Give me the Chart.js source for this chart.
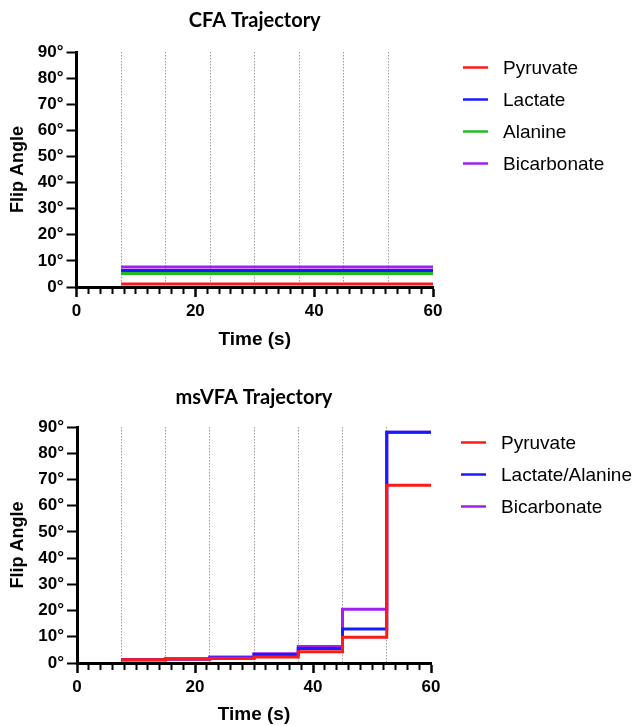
<!DOCTYPE html>
<html>
<head>
<meta charset="utf-8">
<title>CFA / msVFA Trajectory</title>
<script src="https://cdn.jsdelivr.net/npm/chart.js@4/dist/chart.umd.min.js"></script>
<style>
  html, body { margin: 0; padding: 0; background: #fff; }
  #wrap { position: relative; width: 633px; height: 726px; }
  canvas { position: absolute; left: 0; }
  #cfa { top: 0; }
  #msvfa { top: 363px; }
</style>
</head>
<body>
<div id="wrap">
  <canvas id="cfa" width="633" height="363"></canvas>
  <canvas id="msvfa" width="633" height="363"></canvas>
</div>
<script>
// times where a new flip angle starts (s) -- last one is the end of the acquisition
const cfaTimes = [7.5, 60];
const cfaPyruvate = [1.15, 1.15];
const cfaLactate = [6.35, 6.35];
const cfaAlanine = [5.2, 5.2];
const cfaBicarbonate = [7.65, 7.65];

const msTimes = [7.5, 15, 22.5, 30, 37.5, 45, 52.5, 60];
const msPyruvate = [1.2, 1.5, 1.7, 2.3, 4.3, 9.8, 67.8, 67.8];
const msLactateAlanine = [1.2, 1.5, 1.9, 3.2, 5.5, 13, 88, 88];
const msBicarbonate = [1.2, 1.5, 2.3, 3.5, 6.3, 20.5, 88, 88];

// dotted lines at each excitation
const gridTimes = [7.5, 15, 22.5, 30, 37.5, 45, 52.5];
const yTicks = [0, 10, 20, 30, 40, 50, 60, 70, 80, 90];

const cores = {
    pyruvate: '#ff1a1a',
    lactate: '#1a1aff',
    alanine: '#22bb22',
    bicarbonate: '#a020f0'
};

const ARIAL = "'Liberation Sans', Arial, sans-serif";
Chart.defaults.font.family = ARIAL;
Chart.defaults.color = '#000';

function serie(label, times, values, color) {
    return {
        label: label,
        data: times.map((t, i) => ({ x: t, y: values[i] })),
        borderColor: color,
        backgroundColor: color,
        borderWidth: 3,
        pointRadius: 0,
        stepped: 'before',
        fill: false
    };
}

// legend drawn on the right side, one short line + name per dataset
const legendaLinhas = {
    id: 'legendaLinhas',
    afterDraw(chart, args, opts) {
        const { ctx, chartArea } = chart;
        ctx.save();
        ctx.font = '19px ' + ARIAL;
        ctx.textBaseline = 'middle';
        chart.data.datasets.forEach((ds, i) => {
            const x = chartArea.right + opts.offsetX;
            const y = chartArea.top + opts.offsetY + i * opts.spacing;
            ctx.strokeStyle = ds.borderColor;
            ctx.lineWidth = 2.5;
            ctx.beginPath();
            ctx.moveTo(x, y);
            ctx.lineTo(x + 25, y);
            ctx.stroke();
            ctx.fillStyle = '#000';
            ctx.fillText(ds.label, x + 40, y + 1);
        });
        ctx.restore();
    }
};

function criarGrafico(id, titulo, datasets, lay) {
    return new Chart(document.getElementById(id), {
        type: 'line',
        data: { datasets: datasets },
        plugins: [legendaLinhas],
        options: {
            responsive: false,
            animation: false,
            layout: { padding: { left: 0, right: lay.right, top: 0, bottom: lay.bottom } },
            plugins: {
                legend: { display: false },
                tooltip: { enabled: false },
                title: {
                    display: true,
                    text: titulo,
                    fullSize: false,
                    color: '#000',
                    font: { family: 'Lato', size: 20, weight: 'bold', lineHeight: 1.2 },
                    padding: { top: lay.titleTop, bottom: lay.titleBottom }
                },
                legendaLinhas: { offsetX: 30, offsetY: 15.5, spacing: 32 }
            },
            scales: {
                x: {
                    type: 'linear',
                    position: 'bottom',
                    min: 0,
                    max: 60,
                    afterFit: axis => { axis.height = lay.xHeight; },
                    ticks: {
                        stepSize: 2,
                        autoSkip: false,
                        maxRotation: 0,
                        padding: 4,
                        font: { size: 17, weight: 'bold' },
                        callback: v => (v % 20 === 0 ? v : '')
                    },
                    grid: {
                        drawOnChartArea: false,
                        drawTicks: true,
                        tickLength: 10,
                        tickColor: '#000',
                        tickWidth: c => (c.tick && c.tick.value % 20 === 0 ? 2.5 : 2),
                        tickBorderDash: c => (c.tick && c.tick.value % 20 === 0 ? [] : [5, 20])
                    },
                    border: { display: true, color: '#000', width: 3 },
                    title: {
                        display: true,
                        text: 'Time (s)',
                        font: { size: 19, weight: 'bold' },
                        padding: { top: 0, bottom: 0 }
                    }
                },
                xg: {
                    type: 'linear',
                    position: 'bottom',
                    min: 0,
                    max: 60,
                    afterFit: axis => { axis.height = 0; },
                    afterBuildTicks: axis => { axis.ticks = gridTimes.map(v => ({ value: v })); },
                    ticks: { display: false },
                    grid: { drawOnChartArea: true, drawTicks: false, color: '#9a9a9a', lineWidth: 1 },
                    border: { display: false, dash: [1.5, 1.5] }
                },
                y: {
                    type: 'linear',
                    min: 0,
                    max: 90,
                    afterFit: axis => { axis.width = lay.left; },
                    afterBuildTicks: axis => { axis.ticks = yTicks.map(v => ({ value: v })); },
                    ticks: {
                        padding: 3,
                        font: { size: 17, weight: 'bold' },
                        callback: v => v + '°'
                    },
                    grid: {
                        drawOnChartArea: false,
                        drawTicks: true,
                        tickLength: 10,
                        tickColor: '#000',
                        tickWidth: 2
                    },
                    border: { display: true, color: '#000', width: 3 },
                    title: {
                        display: true,
                        text: 'Flip Angle',
                        font: { size: 18, weight: 'bold' },
                        padding: { top: 7, bottom: 0 }
                    }
                }
            }
        }
    });
}

document.addEventListener('DOMContentLoaded', function() {
    criarGrafico('cfa', 'CFA Trajectory', [
        serie('Pyruvate', cfaTimes, cfaPyruvate, cores.pyruvate),
        serie('Lactate', cfaTimes, cfaLactate, cores.lactate),
        serie('Alanine', cfaTimes, cfaAlanine, cores.alanine),
        serie('Bicarbonate', cfaTimes, cfaBicarbonate, cores.bicarbonate)
    ], { left: 76.5, right: 200, bottom: 12, xHeight: 64, titleTop: 8.5, titleBottom: 19.5 });

    criarGrafico('msvfa', 'msVFA Trajectory', [
        serie('Pyruvate', msTimes, msPyruvate, cores.pyruvate),
        serie('Lactate/Alanine', msTimes, msLactateAlanine, cores.lactate),
        serie('Bicarbonate', msTimes, msBicarbonate, cores.bicarbonate)
    ], { left: 77, right: 202, bottom: 0, xHeight: 63, titleTop: 22.5, titleBottom: 17.5 });
});
</script>
</body>
</html>
